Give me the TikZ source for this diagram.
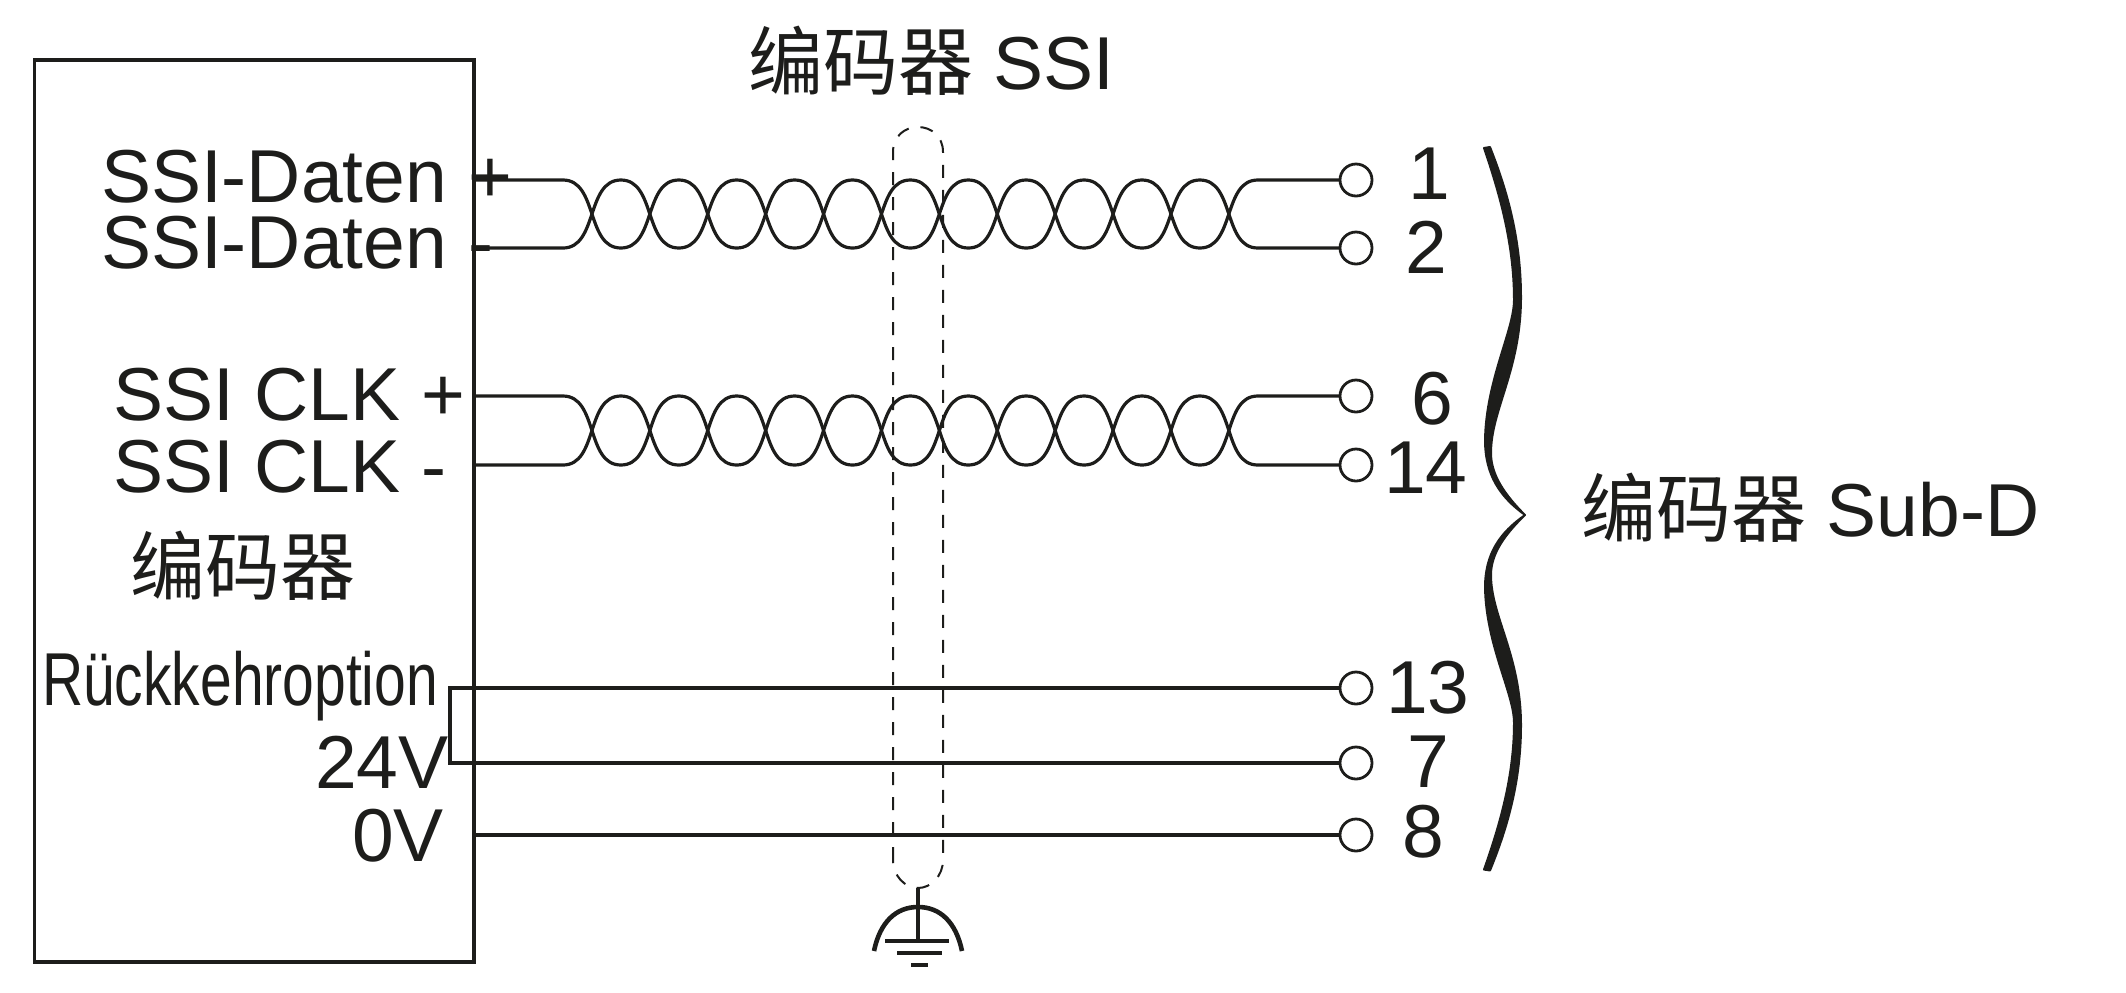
\documentclass[tikz,border=0pt]{standalone}
\usepackage{fontspec}
\setmainfont{Liberation Sans}
\newfontfamily\cjk{Noto Sans CJK SC}
\usepackage{tikz}
\definecolor{ink}{HTML}{1D1D1B}
\tikzset{
  lbl/.style={anchor=base west, inner sep=0pt, outer sep=0pt, text=ink, font=\fontsize{37.5}{40}\selectfont},
  wire/.style={draw=ink, line width=1.6pt},
  pin/.style={circle, draw=ink, fill=white, line width=1.4pt, inner sep=0pt, minimum size=16pt, outer sep=0pt},
  shield/.style={draw=ink, line width=1pt, dash pattern=on 6.5pt off 6pt},
  earth/.style={draw=ink, line width=2.3pt}
}
\begin{document}
\begin{tikzpicture}[x=0.5pt, y=-0.5pt]
\useasboundingbox (0,0) rectangle (2126,992);
\node[wire, draw, inner sep=0pt, outer sep=0pt, minimum width=219.75pt, minimum height=451pt] (encoder) at (254.25,511){};
% left labels
\node[lbl] (dataP) at (101,202){SSI-Daten\hspace{11pt}+};
\node[lbl] (dataN) at (101,268){SSI-Daten\hspace{11pt}-};
\node[lbl] (clkP) at (113,420){SSI CLK +};
\node[lbl] (clkN) at (113,492){SSI CLK -};
\node[lbl] (enc) at (130,594){\cjk 编码器};
\node[lbl, xscale=0.76] (back) at (42,705){Rückkehroption};
\node[lbl] (volt) at (315,788){24V};
\node[lbl] (zero) at (352,861){0V};
% top and right labels
\node[lbl] (title) at (748,89){{\cjk 编码器} SSI};
\node[lbl] (subd) at (1581,536){{\cjk 编码器} Sub-D};
% pins
\foreach \name/\y/\lx/\ly in {1/180/1408/199,2/248/1405/273,6/396/1411/424,14/465/1384/493,13/688/1386/713,7/763/1407/787,8/835/1402/857}
{
\node[pin] (t\name) at (1356,\y){};
\node[lbl] (n\name) at (\lx,\ly){\name};
}
\coordinate (a1) at (474,180);
\coordinate (a2) at (474,248);
\coordinate (a6) at (474,396);
\coordinate (a14) at (474,465);
\coordinate (a8) at (474,835);
\coordinate (j13) at (450,688);
\coordinate (j7) at (450,763);
% twisted pairs
\foreach \from/\to/\ya/\yb in {a1/t1/180/248,a2/t2/248/180,a6/t6/396/465,a14/t14/465/396}
\draw[wire] (\from) -- (563,\ya) foreach \k in {1,...,12}{ to[out=0,in=180] ({563+57.9*\k},{mod(\k,2)==1 ? \yb : \ya}) } -- (\to);
% plain wires
\draw[wire] (a8) -- (t8);
\draw[wire, line join=miter] (t13) -- (j13) -- (j7) -- (t7);
% shield
\coordinate (shieldB) at (918,888);
\coordinate (gnd) at (918,941);
\draw[shield] (893,860) -- (893,152) .. controls (893,136) and (905,127) .. (918,127) .. controls (931,127) and (943,136) .. (943,152) -- (943,860) .. controls (943,876) and (931,888) .. (shieldB) .. controls (905,888) and (893,876) .. cycle;
\draw[earth] (shieldB) -- (gnd);
\draw[earth] (885,941) -- (949,941);
\draw[earth] (897,953) -- (942,953);
\draw[earth] (911,965) -- (928,965);
\draw[earth] (874,951) .. controls (880,922) and (896,907) .. (918,907) .. controls (940,907) and (956,922) .. (962,951);
% brace
\foreach \s in {1,-0.966}
\fill[ink, draw=ink, line width=1pt, line join=round, shift={(0,515)}, yscale=\s]
(1484,-367) .. controls (1500,-320) and (1514,-270) .. (1514,-215)
.. controls (1514,-185) and (1486,-135) .. (1485,-75)
.. controls (1485,-40) and (1500,-18) .. (1525,0)
.. controls (1505,-20) and (1491,-40) .. (1491,-62)
.. controls (1491,-105) and (1521,-145) .. (1521,-218)
.. controls (1521,-280) and (1505,-330) .. (1490,-368) -- cycle;
\end{tikzpicture}
\end{document}
